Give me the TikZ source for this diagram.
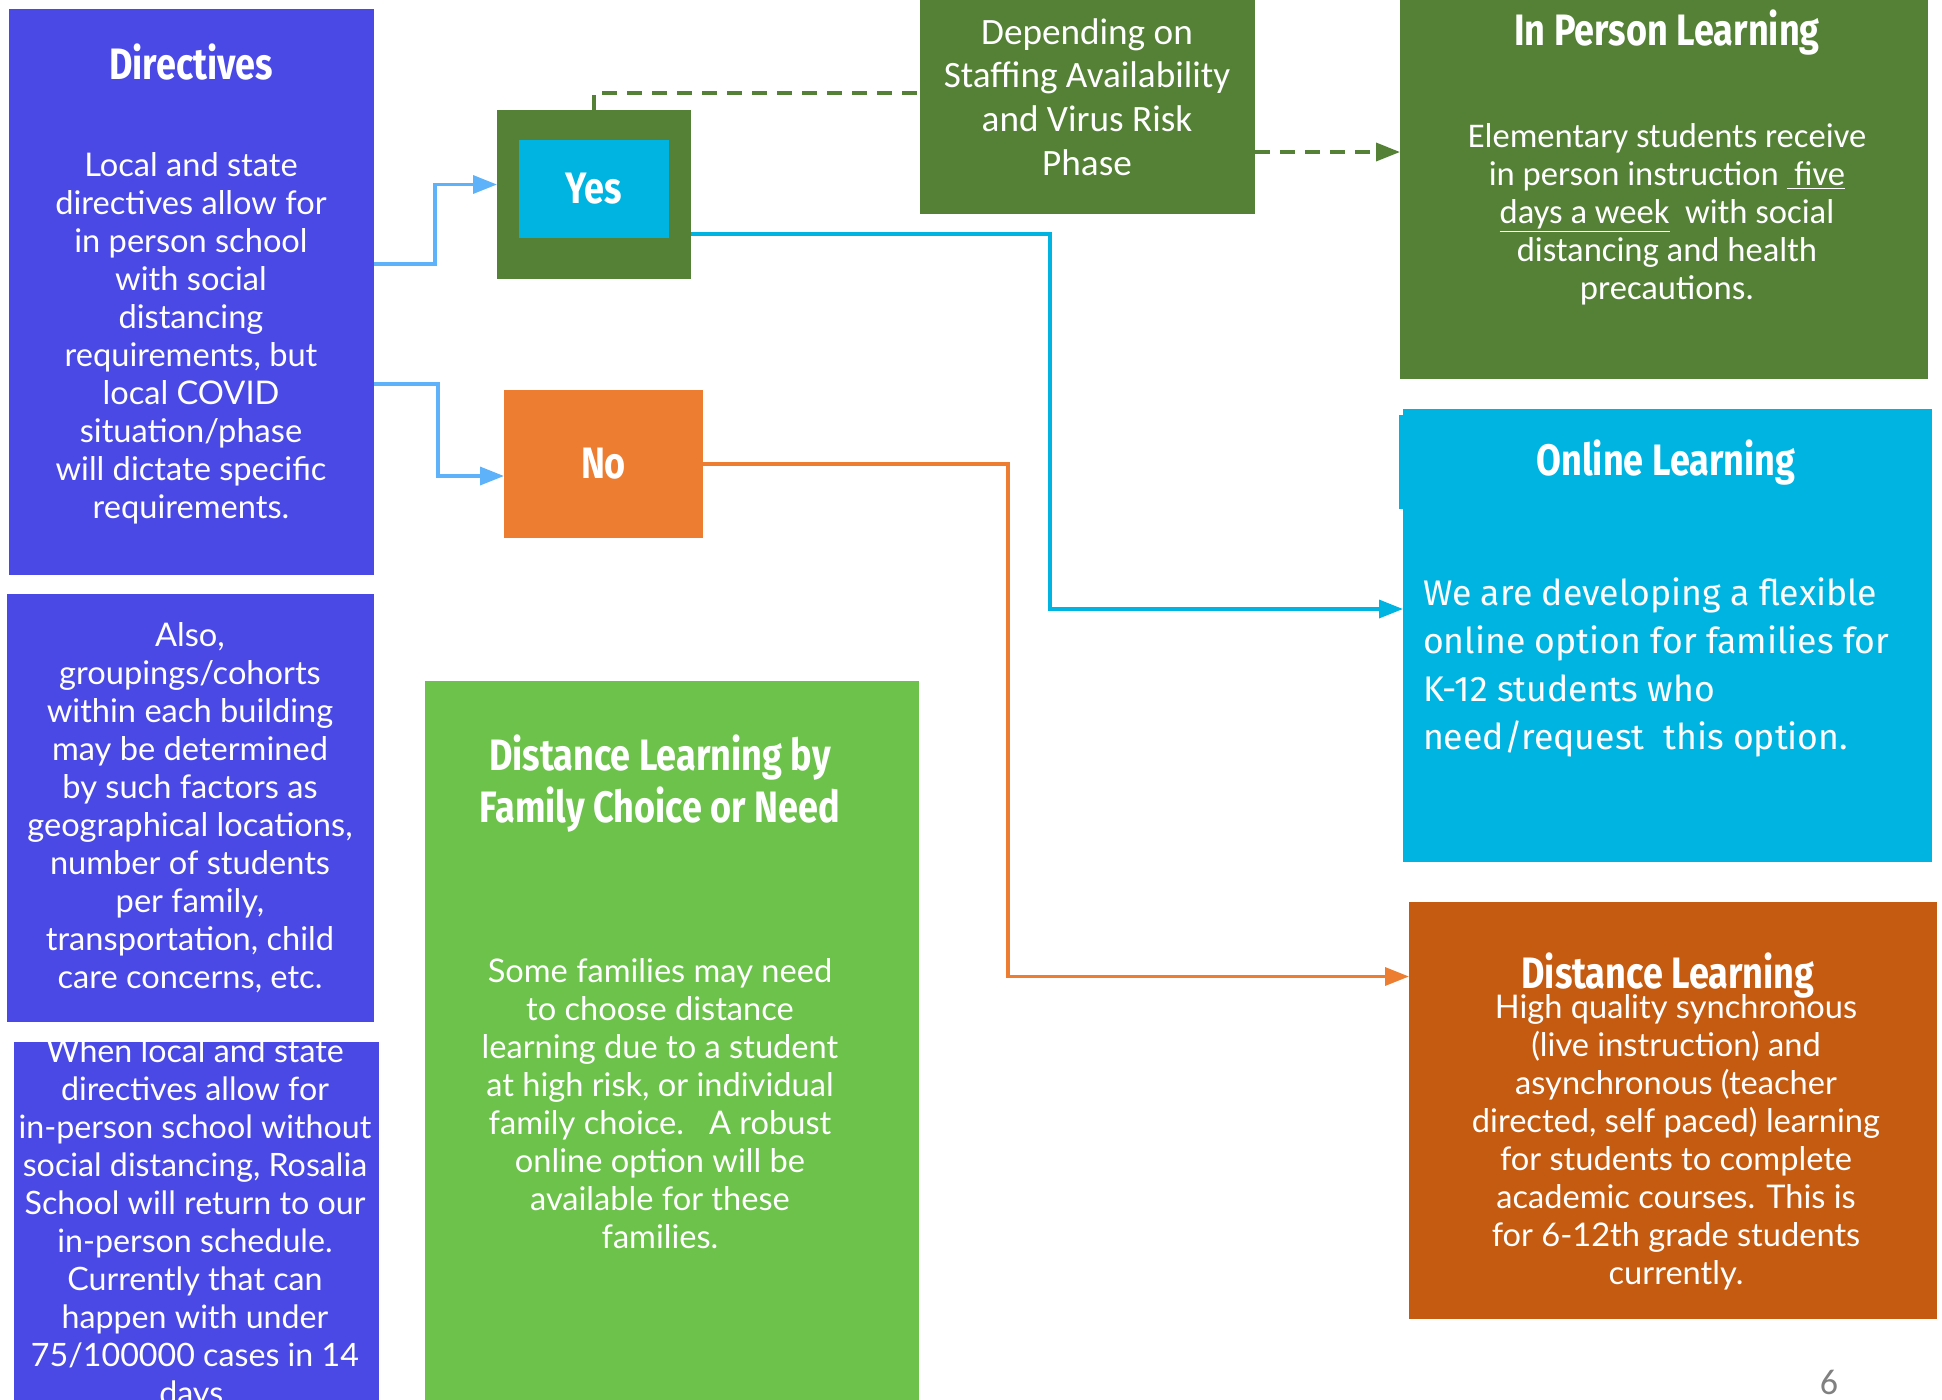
\documentclass[tikz,border=0pt]{standalone}
\usepackage{fontspec}
\setmainfont{Lato}
\newfontfamily\headfont{Fira Sans}[FakeStretch=0.82]
\newfontfamily\bodyfont{Lato}
\newfontfamily\calfont{Carlito}
\newfontfamily\firafont{Fira Sans}
\usetikzlibrary{arrows.meta}
\definecolor{indigo}{RGB}{74,73,229}
\definecolor{leaf}{RGB}{84,129,53}
\definecolor{aqua}{RGB}{0,180,226}
\definecolor{tangerine}{RGB}{237,125,49}
\definecolor{rust}{RGB}{197,90,17}
\definecolor{lime}{RGB}{108,194,74}
\definecolor{sky}{RGB}{94,178,250}
\begin{document}
\begin{tikzpicture}[x=0.5pt, y=-0.5pt,
	box/.style = {inner sep=0, outer sep=0},
	head/.style = {text=white, align=center, font={\headfont\bfseries\fontsize{22}{26}\selectfont}},
	body/.style = {text=white, align=center, font={\bodyfont\fontsize{16.3}{19}\selectfont}},
	calbody/.style = {text=white, align=center, font={\calfont\fontsize{17.3}{19}\selectfont}},
	link/.style = {line width=1.75pt, -{Triangle[length=12pt,width=9pt]}},
	dashlink/.style = {draw=leaf, line width=1.75pt, dash pattern=on 7.5pt off 5pt}]
	\useasboundingbox (0,0) rectangle (1942,1399);
	\clip (0,0) rectangle (1942,1399);

	% left column
	\node[box, fill=indigo, minimum width=182.5pt, minimum height=283pt] (dir) at (191.5,292) {};
	\node[box, fill=indigo, minimum width=183.5pt, minimum height=214pt] (also) at (190.5,808) {};
	\node[box, fill=indigo, minimum width=182.5pt, minimum height=189pt] (when) at (196.5,1231) {};
	\node[head] (dirtitle) at (191,62) {Directives};
	\node[body] (dirtext) at (191,338) {Local and state\\directives allow for\\in person school\\with social\\distancing\\requirements, but\\local COVID\\situation/phase\\will dictate specific\\requirements.};
	\node[body] (alsotext) at (190,808) {Also,\\groupings/cohorts\\within each building\\may be determined\\by such factors as\\geographical locations,\\number of students\\per family,\\transportation, child\\care concerns, etc.};
	\node[body, font={\bodyfont\fontsize{16.1}{19}\selectfont}] (whentext) at (195,1224) {When local and state\\directives allow for\\in-person school without\\social distancing, Rosalia\\School will return to our\\in-person schedule.\\Currently that can\\happen with under\\75/100000 cases in 14\\days.};

	% yes / no
	\node[box, fill=leaf, minimum width=97pt, minimum height=84.5pt] (yes) at (594,194.5) {};
	\node[box, fill=aqua, minimum width=75pt, minimum height=49pt, head] (yesin) at (594,189) {Yes};
	\node[box, fill=tangerine, minimum width=99.5pt, minimum height=74pt, head] (no) at (603.5,464) {No};

	% middle
	\node[box, fill=leaf, minimum width=167.5pt, minimum height=107pt] (depend) at (1087.5,107) {};
	\node[calbody, font={\calfont\fontsize{18.6}{21.8}\selectfont}] (dependtext) at (1087,97) {Depending on\\Staffing Availability\\and Virus Risk\\Phase};
	\node[box, fill=lime, minimum width=247pt, minimum height=369.5pt] (family) at (672,1050.5) {};
	\node[head] (famtitle) at (660,784) {Distance Learning by\\Family Choice or Need};
	\node[body] (famtext) at (660,1103.5) {Some families may need\\to choose distance\\learning due to a student\\at high risk, or individual\\family choice.\ \ \ A robust\\online option will be\\available for these\\families.};

	% right column
	\node[box, fill=leaf, minimum width=264pt, minimum height=189.5pt] (inperson) at (1664,189.5) {};
	\node[head] (iptitle) at (1667,33) {In Person Learning};
	\node[calbody] (iptext) at (1667,214) {Elementary students receive\\in person instruction \underline{\ five}\\\underline{days a week}\ \ with social\\distancing and health\\precautions.};
	\node[box, fill=aqua, minimum width=264.5pt, minimum height=226.5pt] (online) at (1667.5,635.5) {};
	\fill[aqua] (1399,415) rectangle (1410,509);
	\node[head] (oltitle) at (1666,463) {Online Learning};
	\node[text=white, align=left, anchor=west, font={\firafont\fontsize{17.8}{24}\selectfont}] (oltext) at (1416,667) {We are developing a flexible\\online option for families for\\K-12 students who\\need/request\ \ this option.};
	\node[box, fill=rust, minimum width=264pt, minimum height=208.5pt] (dist) at (1673,1110.5) {};
	\node[head] (dltitle) at (1668,976) {Distance Learning};
	\node[body] (dltext) at (1676,1142) {High quality synchronous\\(live instruction) and\\asynchronous (teacher\\directed, self paced) learning\\for students to complete\\academic courses. This is\\for 6-12th grade students\\currently.};
	\node[inner sep=0, text=gray, font={\calfont\fontsize{18}{20}\selectfont}] (page) at (1829,1382) {6};

	% connectors
	\draw[link, sky] ([yshift=14pt]dir.east) -- ++(61,0) |- ([yshift=5pt]yes.west);
	\draw[link, sky] ([yshift=-46pt]dir.east) -- ++(64,0) |- ([yshift=-6pt]no.west);
	\draw[link, aqua] ([yshift=-19.75pt]yes.east) -- ++(359,0) |- ([yshift=13.25pt]online.west);
	\draw[link, tangerine] (no.east) -- ++(305,0) |- ([yshift=67pt]dist.west);
	\draw[dashlink] (yes.north) |- ([yshift=7pt]depend.west);
	\draw[dashlink, -{Triangle[length=12pt,width=9pt]}, leaf] ([yshift=-22.5pt]depend.east) -- ([yshift=-22.5pt]depend.east -| inperson.west);
\end{tikzpicture}
\end{document}
